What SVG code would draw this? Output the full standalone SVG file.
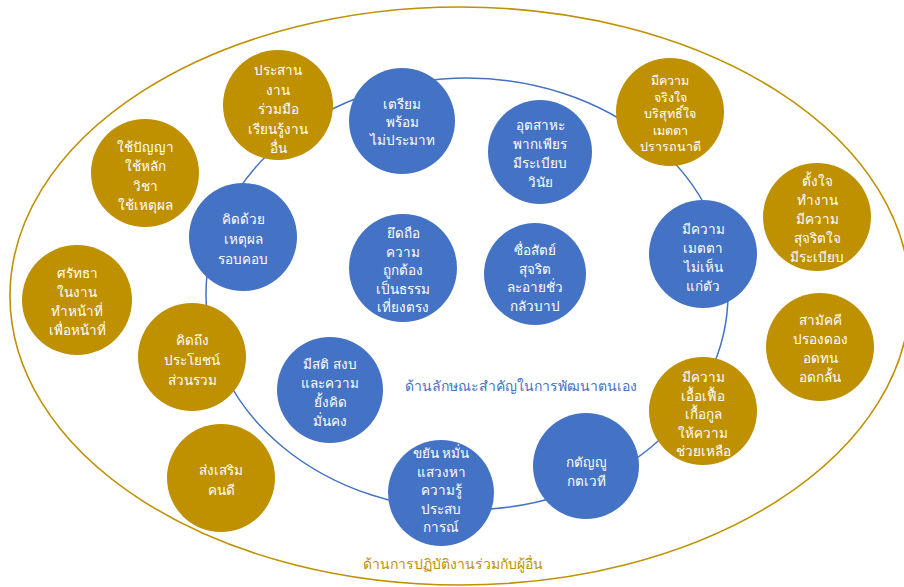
<svg xmlns="http://www.w3.org/2000/svg" width="904" height="587" viewBox="0 0 904 587">
<style>
.g{fill:#BF9000}
.b{fill:#4472C4}
.t{fill:#ffffff;font-family:"Noto Sans","DejaVu Sans",sans-serif;font-size:13.5px;text-anchor:middle;dominant-baseline:central}
.lbl{font-family:"Noto Sans","DejaVu Sans",sans-serif;font-size:14px;text-anchor:middle;dominant-baseline:central}
</style>
<rect width="904" height="587" fill="#ffffff"/>
<g id="connectors" fill="none">
<ellipse cx="460" cy="296" rx="450" ry="289" stroke="#BF9000" stroke-width="1.6"/>
<ellipse cx="467" cy="294" rx="261" ry="216" stroke="#4472C4" stroke-width="1.5"/>
</g>
<g id="n-prasan"><circle class="g" cx="278" cy="105" r="55"/><text class="t" x="278" y="70"><tspan x="278" dy="0">ประสาน</tspan><tspan x="278" dy="19.5">งาน</tspan><tspan x="278" dy="19.5">ร่วมมือ</tspan><tspan x="278" dy="19.5">เรียนรู้งาน</tspan><tspan x="278" dy="19">อื่น</tspan></text></g>
<g id="n-triam"><circle class="b" cx="402" cy="121" r="53"/><text class="t" x="402" y="104"><tspan x="402" dy="0">เตรียม</tspan><tspan x="402" dy="18">พร้อม</tspan><tspan x="402" dy="18">ไม่ประมาท</tspan></text></g>
<g id="n-utsaha"><circle class="b" cx="540" cy="152" r="52"/><text class="t" x="540" y="125"><tspan x="540" dy="0">อุตสาหะ</tspan><tspan x="540" dy="19">พากเพียร</tspan><tspan x="540" dy="19">มีระเบียบ</tspan><tspan x="540" dy="19">วินัย</tspan></text></g>
<g id="n-jingjai"><circle class="g" cx="670" cy="112" r="54"/><text class="t" x="670" y="80" style="font-size:12.5px"><tspan x="670" dy="0">มีความ</tspan><tspan x="670" dy="16.5">จริงใจ</tspan><tspan x="670" dy="16.5">บริสุทธิ์ใจ</tspan><tspan x="670" dy="16.5">เมตตา</tspan><tspan x="670" dy="16.5">ปรารถนาดี</tspan></text></g>
<g id="n-panya"><circle class="g" cx="145" cy="173" r="54"/><text class="t" x="145" y="147"><tspan x="145" dy="0">ใช้ปัญญา</tspan><tspan x="145" dy="19">ใช้หลัก</tspan><tspan x="145" dy="19.5">วิชา</tspan><tspan x="145" dy="19.5">ใช้เหตุผล</tspan></text></g>
<g id="n-khitduay"><circle class="b" cx="243" cy="237" r="54"/><text class="t" x="243" y="219"><tspan x="243" dy="0">คิดด้วย</tspan><tspan x="243" dy="20">เหตุผล</tspan><tspan x="243" dy="20">รอบคอบ</tspan></text></g>
<g id="n-yuethue"><circle class="b" cx="403" cy="268" r="54"/><text class="t" x="403" y="233"><tspan x="403" dy="0">ยึดถือ</tspan><tspan x="403" dy="18.5">ความ</tspan><tspan x="403" dy="18.5">ถูกต้อง</tspan><tspan x="403" dy="18.5">เป็นธรรม</tspan><tspan x="403" dy="18.5">เที่ยงตรง</tspan></text></g>
<g id="n-suesat"><circle class="b" cx="535" cy="274" r="51"/><text class="t" x="535" y="250"><tspan x="535" dy="0">ซื่อสัตย์</tspan><tspan x="535" dy="18.5">สุจริต</tspan><tspan x="535" dy="18.5">ละอายชั่ว</tspan><tspan x="535" dy="18.5">กลัวบาป</tspan></text></g>
<g id="n-metta"><circle class="b" cx="703" cy="254" r="54"/><text class="t" x="703" y="229"><tspan x="703" dy="0">มีความ</tspan><tspan x="703" dy="19">เมตตา</tspan><tspan x="703" dy="19">ไม่เห็น</tspan><tspan x="703" dy="19">แก่ตัว</tspan></text></g>
<g id="n-tangjai"><circle class="g" cx="817" cy="217" r="54"/><text class="t" x="817" y="181"><tspan x="817" dy="0">ตั้งใจ</tspan><tspan x="817" dy="19">ทำงาน</tspan><tspan x="817" dy="19">มีความ</tspan><tspan x="817" dy="19">สุจริตใจ</tspan><tspan x="817" dy="19">มีระเบียบ</tspan></text></g>
<g id="n-samakkhi"><circle class="g" cx="820" cy="347" r="54"/><text class="t" x="820" y="320"><tspan x="820" dy="0">สามัคคี</tspan><tspan x="820" dy="19">ปรองดอง</tspan><tspan x="820" dy="19">อดทน</tspan><tspan x="820" dy="19">อดกลั้น</tspan></text></g>
<g id="n-ueafuea"><circle class="g" cx="703" cy="411" r="54"/><text class="t" x="703" y="377"><tspan x="703" dy="0">มีความ</tspan><tspan x="703" dy="18.5">เอื้อเฟื้อ</tspan><tspan x="703" dy="18.5">เกื้อกูล</tspan><tspan x="703" dy="18.5">ให้ความ</tspan><tspan x="703" dy="18.5">ช่วยเหลือ</tspan></text></g>
<g id="n-sattha"><circle class="g" cx="77" cy="300" r="55"/><text class="t" x="77" y="273"><tspan x="77" dy="0">ศรัทธา</tspan><tspan x="77" dy="19">ในงาน</tspan><tspan x="77" dy="19">ทำหน้าที่</tspan><tspan x="77" dy="19">เพื่อหน้าที่</tspan></text></g>
<g id="n-khitthueng"><circle class="g" cx="192" cy="357" r="54"/><text class="t" x="192" y="340"><tspan x="192" dy="0">คิดถึง</tspan><tspan x="192" dy="20">ประโยชน์</tspan><tspan x="192" dy="20">ส่วนรวม</tspan></text></g>
<g id="n-misati"><circle class="b" cx="330" cy="390" r="53"/><text class="t" x="330" y="364"><tspan x="330" dy="0">มีสติ สงบ</tspan><tspan x="330" dy="19">และความ</tspan><tspan x="330" dy="19">ยั้งคิด</tspan><tspan x="330" dy="19">มั่นคง</tspan></text></g>
<g id="n-songsoem"><circle class="g" cx="221" cy="478" r="54"/><text class="t" x="221" y="470"><tspan x="221" dy="0">ส่งเสริม</tspan><tspan x="221" dy="20">คนดี</tspan></text></g>
<g id="n-khayan"><circle class="b" cx="441" cy="493" r="53"/><text class="t" x="441" y="453"><tspan x="441" dy="0">ขยัน หมั่น</tspan><tspan x="441" dy="18.5">แสวงหา</tspan><tspan x="441" dy="18.5">ความรู้</tspan><tspan x="441" dy="18.5">ประสบ</tspan><tspan x="441" dy="18.5">การณ์</tspan></text></g>
<g id="n-katanyu"><circle class="b" cx="586" cy="466" r="53"/><text class="t" x="586" y="462"><tspan x="586" dy="0">กตัญญู</tspan><tspan x="586" dy="19">กตเวที</tspan></text></g>
<g id="labels">
<text class="lbl" x="521" y="385" fill="#4472C4">ด้านลักษณะสำคัญในการพัฒนาตนเอง</text>
<text class="lbl" x="453" y="563" fill="#BF9000">ด้านการปฏิบัติงานร่วมกับผู้อื่น</text>
</g>
</svg>
